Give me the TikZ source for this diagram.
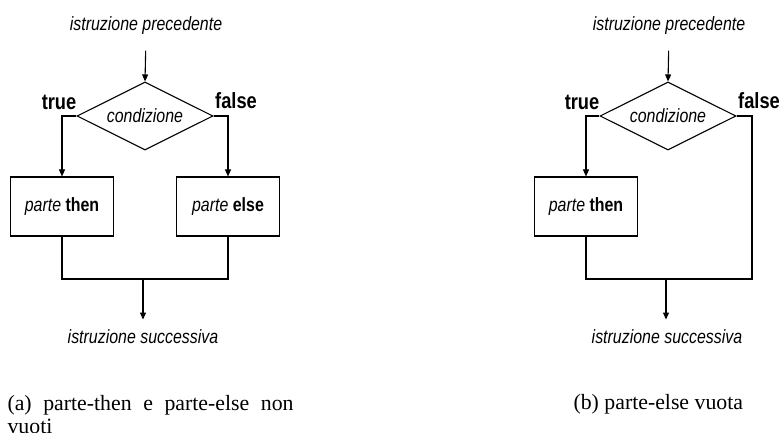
\documentclass[tikz,border=0pt]{standalone}
\usepackage{fontspec}
\setmainfont{Liberation Serif}
\newfontfamily\flowfont[FakeStretch=0.83]{Liberation Sans}
\usetikzlibrary{shapes.geometric,arrows.meta}

\begin{document}
\begin{tikzpicture}[x=1pt,y=-1pt,
  line width=1.1pt,
  arr/.style={-{Triangle[length=7pt,width=6pt]}},
  cond/.style={draw, diamond, aspect=2, minimum width=136pt, minimum height=68pt,
    inner sep=0pt, font=\flowfont\itshape\fontsize{19.2}{22}\selectfont},
  blk/.style={draw, rectangle, minimum width=103pt, minimum height=59pt,
    inner sep=0pt, font=\flowfont\fontsize{19.2}{22}\selectfont},
  stmt/.style={anchor=base, inner sep=0pt,
    font=\flowfont\itshape\fontsize{19.2}{22}\selectfont},
  lbl/.style={anchor=base, inner sep=0pt,
    font=\flowfont\bfseries\fontsize{22}{26}\selectfont},
  subcap/.style={inner sep=0pt, font=\fontsize{21.8}{23.5}\selectfont}
]
\useasboundingbox (0,0) rectangle (782,433);

% ---------- (a) if-then-else with both branches ----------
\node[stmt] (prevA) at (146,31) {istruzione precedente};
\node[cond] (condA) at (145,116) {condizione};
\node[lbl] (trueA) at (59,110) {true};
\node[lbl] (falseA) at (236,109) {false};
\node[blk] (thenA) at (62,206.5) {\textit{parte} \textbf{then}};
\node[blk] (elseA) at (228,206.5) {\textit{parte} \textbf{else}};
\coordinate (jA) at (143,279);
\node[stmt] (nextA) at (143,343) {istruzione successiva};

\draw[arr, shorten <=15pt] (prevA.south) -- (condA.north);
\draw[arr] (condA.west) -| (thenA.north);
\draw[arr] (condA.east) -| (elseA.north);
\draw (thenA.south) |- (jA) -| (elseA.south);
\draw[arr, shorten >=9pt] (jA) -- (jA |- nextA.north);

% ---------- (b) if-then with empty else branch ----------
\node[stmt] (prevB) at (669,31) {istruzione precedente};
\node[cond] (condB) at (668,116) {condizione};
\node[lbl] (trueB) at (582,110) {true};
\node[lbl] (falseB) at (759,109) {false};
\node[blk] (thenB) at (586,206.5) {\textit{parte} \textbf{then}};
\coordinate (jB) at (666,279);
\coordinate (cornerB) at (752,279);
\node[stmt] (nextB) at (667,343) {istruzione successiva};

\draw[arr, shorten <=15pt] (prevB.south) -- (condB.north);
\draw[arr] (condB.west) -| (thenB.north);
\draw (condB.east) -| (cornerB) -- (jB) -| (thenB.south);
\draw[arr, shorten >=9pt] (jB) -- (jB |- nextB.north);

% ---------- captions ----------
\node[subcap, anchor=north west, text width=286pt, align=justify] (capA) at (7,394.5)
  {\hyphenpenalty=10000 (a) parte-then e parte-else non vuoti};
\node[subcap, anchor=base west] (capB) at (573,409) {(b) parte-else vuota};
\end{tikzpicture}
\end{document}
